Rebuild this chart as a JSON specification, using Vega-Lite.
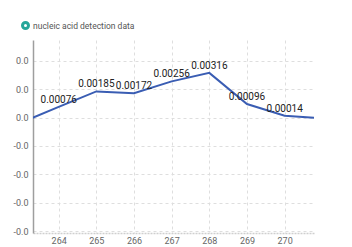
{
  "$schema": "https://vega.github.io/schema/vega-lite/v6.json",
  "width": 281,
  "height": 193,
  "autosize": "none",
  "padding": {"left": 33, "top": 40, "right": 38, "bottom": 14},
  "background": "white",
  "config": {
    "view": {"stroke": null},
    "font": "Roboto"
  },
  "data": {
    "values": [
      {"x": 263, "y": -0.00036},
      {"x": 264, "y": 0.00076},
      {"x": 265, "y": 0.00185},
      {"x": 266, "y": 0.00172},
      {"x": 267, "y": 0.00256},
      {"x": 268, "y": 0.00316},
      {"x": 269, "y": 0.00096},
      {"x": 270, "y": 0.00014},
      {"x": 271, "y": -0.00004}
    ]
  },
  "encoding": {
    "x": {
      "field": "x", "type": "quantitative",
      "scale": {"domain": [263.318, 270.78], "nice": false, "zero": false},
      "axis": {
        "title": null, "values": [264, 265, 266, 267, 268, 269, 270],
        "format": "d", "ticks": false,
        "domainColor": "#cfcfcf", "domainWidth": 1.5, "domainDash": [2, 1],
        "grid": true, "gridColor": "#dedede", "gridDash": [3, 3], "gridWidth": 1,
        "labelFont": "Roboto", "labelFontSize": 9, "labelColor": "#666666", "labelPadding": 3
      }
    },
    "y": {
      "field": "y", "type": "quantitative",
      "scale": {"domain": [-0.00814, 0.00548], "nice": false, "zero": false},
      "axis": {
        "title": null, "values": [-0.008, -0.006, -0.004, -0.002, 0, 0.002, 0.004],
        "labelExpr": "datum.value < -0.000001 ? '-0.0' : '0.0'",
        "ticks": false,
        "domainColor": "#9e9e9e", "domainWidth": 1.5,
        "grid": true, "gridColor": "#dedede", "gridDash": [3, 3], "gridWidth": 1,
        "labelFont": "Roboto", "labelFontSize": 9, "labelColor": "#666666", "labelPadding": 5
      }
    }
  },
  "layer": [
    {
      "mark": {"type": "line", "clip": true, "color": "#3a5db3", "strokeWidth": 2},
      "encoding": {}
    },
    {
      "transform": [{"filter": "datum.x >= 264 && datum.x <= 270"}],
      "mark": {"type": "text", "font": "Roboto", "fontSize": 10, "color": "#222222", "baseline": "alphabetic", "dy": -4},
      "encoding": {"text": {"field": "y", "type": "quantitative", "format": ".5f"}}
    },
    {
      "transform": [{"filter": "datum.x == 268"}],
      "mark": {"type": "point", "filled": false, "opacity": 0, "strokeWidth": 3},
      "encoding": {
        "color": {
          "datum": "nucleic acid detection data",
          "scale": {"range": ["#26a69a"]},
          "legend": {
            "title": null, "orient": "none", "legendX": -12, "legendY": -19,
            "symbolType": "circle", "symbolSize": 36, "symbolStrokeWidth": 3,
            "symbolStrokeColor": "#26a69a", "symbolFillColor": "white", "symbolOpacity": 1,
            "labelFont": "Roboto", "labelFontSize": 8.5, "labelColor": "#555555", "labelOffset": 3
          }
        }
      }
    }
  ]
}
